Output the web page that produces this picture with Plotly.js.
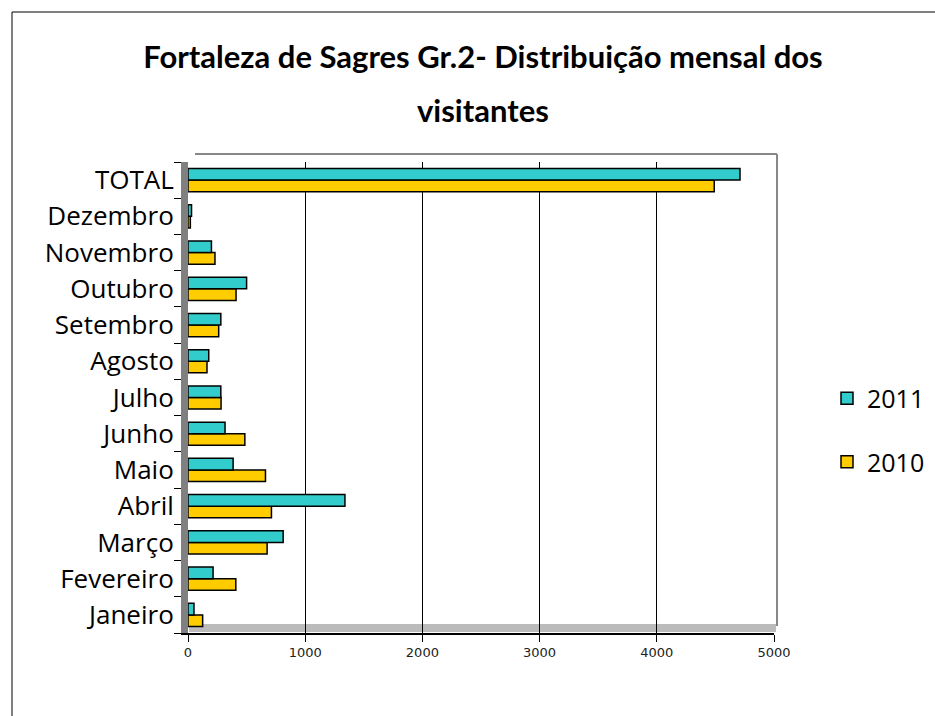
<!DOCTYPE html>
<html>
<head>
<meta charset="utf-8">
<script src="https://cdn.plot.ly/plotly-3.0.1.min.js"></script>
<style>
  html, body { margin: 0; padding: 0; background: #fff; }
  #chart { width: 935px; height: 716px; }
</style>
</head>
<body>
<div id="chart"></div>
<script>
// Categories, bottom to top
const categories = ["Janeiro", "Fevereiro", "Março", "Abril", "Maio", "Junho", "Julho",
                    "Agosto", "Setembro", "Outubro", "Novembro", "Dezembro", "TOTAL"];
const values2011 = [51, 214, 812, 1339, 385, 316, 280, 177, 280, 500, 200, 30, 4710];
const values2010 = [125, 408, 675, 712, 661, 485, 282, 162, 262, 410, 230, 20, 4490];
const seriesNames = ["2011", "2010"];
const xTicks = [0, 1000, 2000, 3000, 4000, 5000];

// pixel geometry helpers
const W = 935, H = 716;
const L = 188, R = 774, T = 162, B = 633;
const pw = R - L, ph = B - T;
const px = x => (x - L) / pw;
const py = y => (B - y) / ph;

const traces = [
  {
    type: "bar", orientation: "h",
    name: seriesNames[1], legendgroup: "b", legendrank: 2,
    y: categories, x: values2010,
    marker: { color: "#FFCC00", line: { color: "#000", width: 1.5 } },
    hoverinfo: "x+name"
  },
  {
    type: "bar", orientation: "h",
    name: seriesNames[0], legendgroup: "a", legendrank: 1,
    y: categories, x: values2011,
    marker: { color: "#33CCCC", line: { color: "#000", width: 1.5 } },
    hoverinfo: "x+name"
  }
];

const layout = {
  width: W, height: H,
  margin: { l: L, r: W - R, t: T, b: H - B, pad: 0, autoexpand: false },
  paper_bgcolor: "#fff", plot_bgcolor: "#fff",
  barmode: "group",
  bargap: 0.36,
  bargroupgap: 0,
  showlegend: true,
  title: {
    text: "<b>Fortaleza de Sagres Gr.2- Distribuição mensal dos</b>",
    font: { family: "Lato, 'Noto Sans', sans-serif", size: 31, color: "#000" },
    x: 483 / W, xanchor: "center", xref: "container",
    y: 1 - 57 / H, yanchor: "middle"
  },
  annotations: [
    {
      text: "<b>visitantes</b>", xref: "paper", yref: "paper",
      x: px(483), y: py(110), xanchor: "center", yanchor: "middle",
      showarrow: false,
      font: { family: "Lato, 'Noto Sans', sans-serif", size: 31, color: "#000" }
    }
  ],
  xaxis: {
    range: [0, 5000],
    tickvals: xTicks,
    ticktext: xTicks.map(String),
    ticks: "outside", ticklen: 7, tickcolor: "#000", tickwidth: 1,
    showgrid: true, gridcolor: "#000", gridwidth: 1,
    showline: true, linecolor: "#000", linewidth: 1.5,
    zeroline: false,
    tickfont: { family: "'DejaVu Sans', sans-serif", size: 13, color: "#222" },
    fixedrange: true
  },
  yaxis: {
    type: "category",
    categoryorder: "array", categoryarray: categories,
    tickson: "boundaries",
    ticks: "outside", ticklen: 7, tickcolor: "#000", tickwidth: 1,
    showline: true, linecolor: "#808080", linewidth: 7,
    showgrid: false, zeroline: false,
    tickfont: { family: "'Open Sans', sans-serif", size: 26, color: "#000" },
    ticklabelstandoff: 2,
    fixedrange: true
  },
  legend: {
    x: px(827), y: py(430), xanchor: "left", yanchor: "middle",
    traceorder: "grouped",
    tracegroupgap: 28,
    font: { family: "'Open Sans', sans-serif", size: 25, color: "#000" },
    itemwidth: 30,
    bgcolor: "rgba(0,0,0,0)"
  },
  shapes: [
    // outer chart frame (top and left)
    { type: "line", xref: "paper", yref: "paper", x0: px(12), x1: px(W + 5), y0: py(12), y1: py(12),
      line: { color: "#000", width: 1 } },
    { type: "line", xref: "paper", yref: "paper", x0: px(12), x1: px(12), y0: py(12), y1: py(H + 5),
      line: { color: "#000", width: 1 } },
    // back plane top & right edges
    { type: "line", xref: "paper", yref: "paper", x0: px(195), x1: px(777), y0: py(154), y1: py(154),
      line: { color: "#888", width: 2 } },
    { type: "line", xref: "paper", yref: "paper", x0: px(777), x1: px(777), y0: py(154), y1: py(626),
      line: { color: "#888", width: 2 } },
    // floor band
    { type: "rect", xref: "paper", yref: "paper", x0: px(189), x1: px(776), y0: py(632), y1: py(624),
      fillcolor: "#bbb", line: { width: 0 }, layer: "below" }
  ]
};

Plotly.newPlot("chart", traces, layout, { displayModeBar: false, staticPlot: true });
</script>
</body>
</html>
